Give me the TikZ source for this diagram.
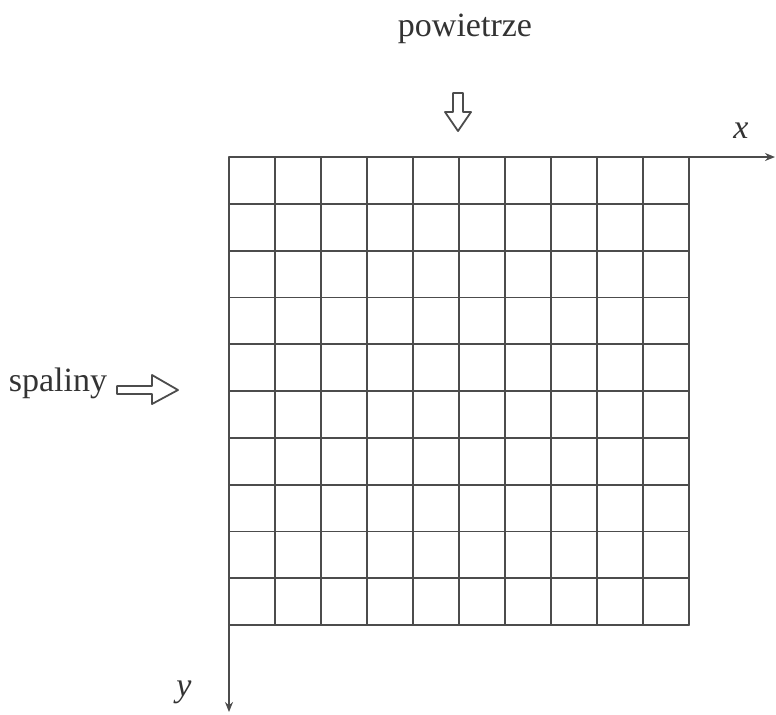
\documentclass[tikz,border=0pt]{standalone}
\usepackage{fontspec}
\setmainfont{Liberation Serif}
\usetikzlibrary{arrows.meta}

\begin{document}
\begin{tikzpicture}[x=0.5pt,y=-0.5pt,line cap=round,line join=round,>={Stealth[length=5pt,width=4pt]},every node/.style={inner sep=1pt,text=black!80,font=\fontsize{17}{20}\selectfont}]
  \def\xl{229}
  \def\yt{157}
  \def\dx{46}
  \def\dy{46.8}
  \useasboundingbox (0,0) rectangle (776,714);
  \tikzset{gridline/.style={line width=0.9pt,draw=black!70},
           hollow/.style={line width=0.9pt,draw=black!70,fill=white}}
  % siatka 10x10
  \foreach \i in {0,...,10}{
    \draw[gridline] ({\xl+\i*\dx},\yt) -- ({\xl+\i*\dx},{\yt+10*\dy});
    \draw[gridline] (\xl,{\yt+\i*\dy}) -- ({\xl+10*\dx},{\yt+\i*\dy});
  }
  % osie
  \coordinate (xs) at ({\xl+10*\dx},\yt);
  \coordinate (xe) at (775,\yt);
  \coordinate (ys) at (\xl,{\yt+10*\dy});
  \coordinate (ye) at (\xl,712);
  \draw[gridline,->] (xs) -- (xe);
  \draw[gridline,->] (ys) -- (ye);
  \node (xlab) at (741,131) {\textit{x}};
  \node (ylab) at (184,692) {\textit{y}};
  % powietrze
  \node (air) at (465,29) {powietrze};
  \draw[hollow] (453,93) -- (463,93) -- (463,112) -- (471,112) -- (458,131)
    -- (445,112) -- (453,112) -- cycle;
  % spaliny
  \node (gas) at (58,383) {spaliny};
  \draw[hollow] (117,386) -- (152,386) -- (152,375) -- (178,390) -- (152,404)
    -- (152,394) -- (117,394) -- cycle;
\end{tikzpicture}
\end{document}
